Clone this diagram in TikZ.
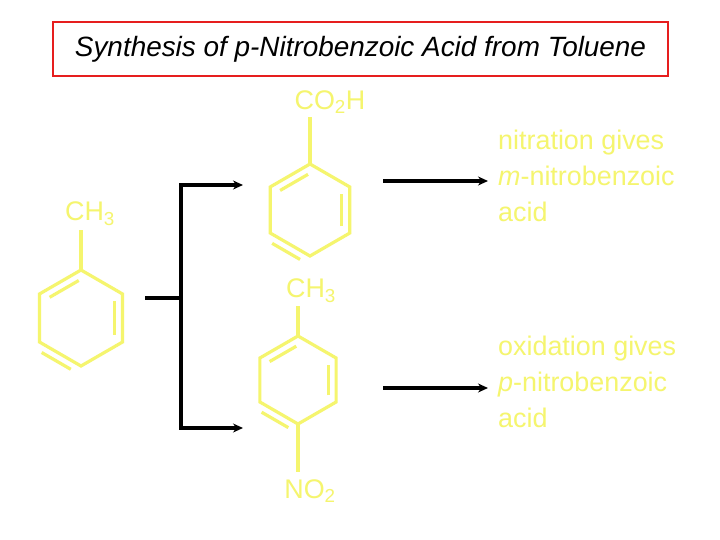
\documentclass[tikz,border=0pt]{standalone}
\usepackage{fontspec}
\setmainfont{Liberation Sans}
\usetikzlibrary{arrows.meta,calc}
\definecolor{ylw}{RGB}{245,245,110}
\definecolor{ttl}{RGB}{230,30,30}
\tikzset{bond/.style={draw=ylw,line width=3.2pt},
 lbl/.style={text=ylw,font=\fontsize{27}{30}\selectfont,inner sep=0pt},
 note/.style={text=ylw,font=\fontsize{27}{36}\selectfont,align=left,anchor=north west,inner sep=0pt},
 arr/.style={line width=3.6pt,-{Stealth[length=10pt,width=9pt]}},
 ln/.style={line width=3.6pt}}
\newcommand{\ring}[3]{%
 \begin{scope}[shift={(#1,#2)}]
 \draw[bond,line join=miter] (90:#3)--(30:#3)--(-30:#3)--(-90:#3)--(-150:#3)--(150:#3)--cycle;
 \draw[bond] ($(90:#3)!0.15!(150:#3)!8pt!90:(150:#3)$) -- ($(150:#3)!0.15!(90:#3)!8pt!-90:(90:#3)$);
 \draw[bond] ($(30:#3)!0.15!(-30:#3)!8pt!90:(-30:#3)$) -- ($(-30:#3)!0.15!(30:#3)!8pt!-90:(30:#3)$);
 \draw[bond] ($(-90:#3)!0.15!(-150:#3)!8pt!90:(-150:#3)$) -- ($(-150:#3)!0.15!(-90:#3)!8pt!-90:(-90:#3)$);
 \end{scope}}
\begin{document}
\begin{tikzpicture}[x=1bp,y=-1bp]
\useasboundingbox[fill=white] (0,0) rectangle (720,540);
\node[draw=ttl,line width=2.5pt,minimum width=615bp,minimum height=54bp,font=\itshape\fontsize{28}{30}\selectfont,inner sep=0pt] (title) at (360.5,49) {Synthesis of p-Nitrobenzoic Acid from Toluene};
% toluene
\ring{81}{318}{48}
\draw[bond] (81,270) -- (81,230);
\node[lbl] (ch3a) at (90,214) {CH\textsubscript{3}};
% benzoic acid
\ring{310}{210}{46}
\draw[bond] (310,164) -- (310,117);
\node[lbl] (co2h) at (330,102) {CO\textsubscript{2}H};
% p-nitrotoluene
\ring{298}{380}{44}
\draw[bond] (298,336) -- (298,306);
\draw[bond] (298,424) -- (298,472);
\node[lbl] (ch3b) at (311,291) {CH\textsubscript{3}};
\node[lbl] (no2) at (310,491) {NO\textsubscript{2}};
% arrows
\coordinate (s) at (145,298); \coordinate (j) at (181,298);
\coordinate (jt) at (181,185); \coordinate (jb) at (181,428);
\coordinate (t1) at (243,185); \coordinate (b1) at (243,428);
\draw[ln] (s) -- (j);
\draw[arr] (j) -- (jt) -- (t1);
\draw[arr] (j) -- (jb) -- (b1);
\coordinate (r1) at (383,181); \coordinate (r1e) at (488,181);
\coordinate (r2) at (383,388); \coordinate (r2e) at (488,388);
\draw[arr] (r1) -- (r1e);
\draw[arr] (r2) -- (r2e);
\node[note] (n1) at (498,130) {nitration gives\\\textit{m}-nitrobenzoic\\acid};
\node[note] (n2) at (498,336) {oxidation gives\\\textit{p}-nitrobenzoic\\acid};
\end{tikzpicture}
\end{document}
